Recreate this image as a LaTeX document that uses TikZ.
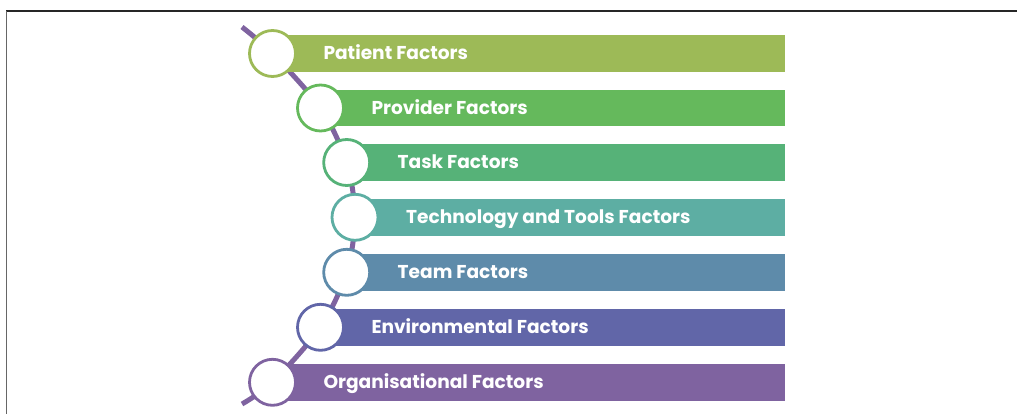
\documentclass[tikz,border=0pt]{standalone}
\usepackage{fontspec}
\setmainfont{Poppins}
\begin{document}
\begin{tikzpicture}[x=1pt,y=-1pt,
  ring/.style={circle,draw=#1,line width=2.8pt,fill=white,minimum size=46pt,inner sep=0pt},
  lbl/.style={anchor=base west,inner sep=0pt,text=white,font=\fontsize{18.6}{20}\selectfont\bfseries},
  trail/.style={draw=cOrg,line width=5pt}]
\definecolor{cPat}{RGB}{157,186,87}
\definecolor{cPro}{RGB}{101,185,92}
\definecolor{cTask}{RGB}{86,178,120}
\definecolor{cTech}{RGB}{93,174,163}
\definecolor{cTeam}{RGB}{94,139,170}
\definecolor{cEnv}{RGB}{97,102,168}
\definecolor{cOrg}{RGB}{127,99,160}
\useasboundingbox (0,0) rectangle (1017,414);
% frame lines
\draw[line width=1.2pt,draw=black!85] (6,11) -- (1017,11);
\draw[line width=1.4pt,draw=black!60] (6.5,11) -- (6.5,414);
% circle centres
\coordinate (p1) at (272.5,53.5);
\coordinate (p2) at (320.5,108);
\coordinate (p3) at (346.7,162.5);
\coordinate (p4) at (355,217.3);
\coordinate (p5) at (346.7,272.3);
\coordinate (p6) at (320.5,327.3);
\coordinate (p7) at (272.5,382.3);
\coordinate (top) at (242,27);
\coordinate (bot) at (242,404);
% trail
\draw[trail,line cap=butt] plot[smooth,tension=0.5] coordinates {(top) (p1) (p2) (p3) (p4) (p5) (p6) (p7) (bot)};
% bars
\fill[cPat]  (272.5,35) rectangle (785,72);
\fill[cPro]  (320.5,90) rectangle (785,126);
\fill[cTask] (346.7,144) rectangle (785,181);
\fill[cTech] (355,199) rectangle (785,235.7);
\fill[cTeam] (346.7,254) rectangle (785,290.7);
\fill[cEnv]  (320.5,309) rectangle (785,346);
\fill[cOrg]  (272.5,364) rectangle (785,400.7);
% rings
\node[ring=cPat]  (r1) at (p1) {};
\node[ring=cPro]  (r2) at (p2) {};
\node[ring=cTask] (r3) at (p3) {};
\node[ring=cTech] (r4) at (p4) {};
\node[ring=cTeam] (r5) at (p5) {};
\node[ring=cEnv]  (r6) at (p6) {};
\node[ring=cOrg]  (r7) at (p7) {};
% labels
\node[lbl] (t1) at (323.3,59.8) {Patient Factors};
\node[lbl] (t2) at (371.3,114.3) {Provider Factors};
\node[lbl] (t3) at (397.5,168.8) {Task Factors};
\node[lbl] (t4) at (406,223.6) {Technology and Tools Factors};
\node[lbl] (t5) at (397.5,278.6) {Team Factors};
\node[lbl] (t6) at (371.3,333.6) {Environmental Factors};
\node[lbl] (t7) at (323.3,388.6) {Organisational Factors};
\end{tikzpicture}
\end{document}
